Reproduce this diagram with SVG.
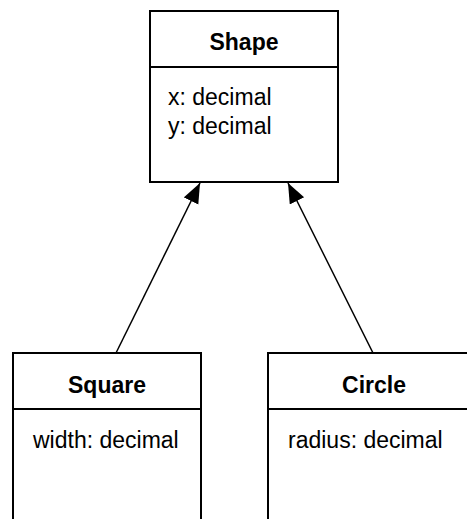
<svg xmlns="http://www.w3.org/2000/svg" width="467" height="519" viewBox="0 0 467 519">
<style>
.box{fill:#fff;stroke:#000;stroke-width:2}
.div{stroke:#000;stroke-width:2}
.title{font-family:"Liberation Sans",Arial,sans-serif;font-size:23px;font-weight:bold;text-anchor:middle;fill:#000}
.attr{font-family:"Liberation Sans",Arial,sans-serif;font-size:23px;fill:#000}
.conn{stroke:#000;stroke-width:1.5;fill:none;marker-end:url(#tri)}
</style>
<defs>
<marker id="tri" markerUnits="userSpaceOnUse" markerWidth="22" markerHeight="18" refX="20" refY="8" orient="auto" viewBox="0 0 22 18">
<path d="M0,0 L20,8 L0,16 z" fill="#000"/>
</marker>
</defs>
<rect width="467" height="519" fill="#fff"/>
<g id="connectors">
<line class="conn" x1="116" y1="353" x2="200" y2="183"/>
<line class="conn" x1="373" y1="353" x2="288" y2="183"/>
</g>
<g id="shape">
<rect class="box" x="150" y="11" width="188" height="171"/>
<line class="div" x1="150" y1="67" x2="338" y2="67"/>
<text class="title" x="244" y="50">Shape</text>
<text class="attr" x="168" y="105">x: decimal</text>
<text class="attr" x="168" y="134">y: decimal</text>
</g>
<g id="square">
<rect class="box" x="13" y="353" width="188" height="200"/>
<line class="div" x1="13" y1="409" x2="201" y2="409"/>
<text class="title" x="107" y="393">Square</text>
<text class="attr" x="33" y="448">width: decimal</text>
</g>
<g id="circle">
<rect class="box" x="268" y="353" width="212" height="200"/>
<line class="div" x1="268" y1="409" x2="480" y2="409"/>
<text class="title" x="374" y="393">Circle</text>
<text class="attr" x="288" y="448">radius: decimal</text>
</g>
</svg>
